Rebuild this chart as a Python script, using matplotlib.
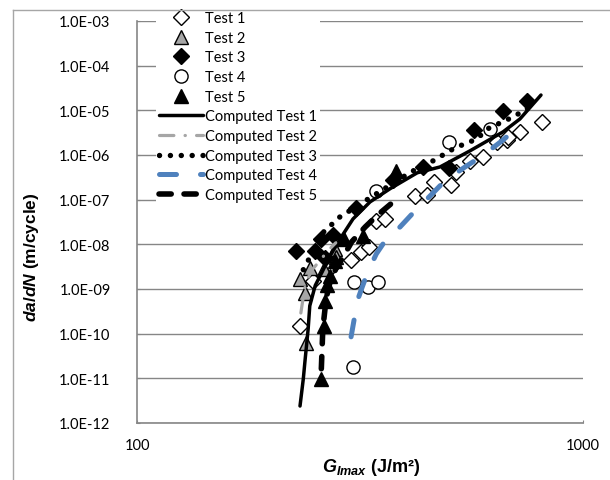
import numpy as np
import matplotlib
matplotlib.use("Agg")
import matplotlib.pyplot as plt
from matplotlib.lines import Line2D

plt.rcParams["font.family"] = ["Lato", "DejaVu Sans"]
plt.rcParams["mathtext.fontset"] = "custom"
plt.rcParams["mathtext.it"] = "Liberation Sans:italic:bold"
plt.rcParams["mathtext.rm"] = "Liberation Sans:bold"
plt.rcParams["mathtext.bf"] = "Liberation Sans:bold"

# measured points (G_Imax in J/m^2, da/dN in m/cycle)
t1_g = [232, 248, 274, 302, 318, 331, 344, 360, 420, 447, 463, 506, 519, 558, 597, 642, 676, 680, 722, 809]
t1_r = [1.5e-10, 1.5e-9, 3.3e-9, 4.5e-9, 6.8e-9, 8.8e-9, 3.4e-8, 3.7e-8, 1.2e-7, 1.3e-7,
        2.5e-7, 2.1e-7, 4.2e-7, 7.4e-7, 9.1e-7, 2.0e-6, 2.2e-6, 2.5e-6, 3.3e-6, 5.5e-6]
t2_g = [232, 238, 239, 244, 263, 278, 279]
t2_r = [1.7e-9, 8.2e-10, 6.3e-11, 3.0e-9, 2.8e-9, 7.9e-9, 5.3e-9]
t3_g = [227, 251, 264, 259, 275, 310, 375, 438, 501, 569, 662, 749]
t3_r = [7.2e-9, 7.2e-9, 5.0e-9, 1.3e-8, 1.6e-8, 6.6e-8, 2.8e-7, 5.4e-7, 5.0e-7, 3.7e-6, 9.7e-6, 1.6e-5]
t4_g = [307, 330, 347, 305, 344, 501, 619]
t4_r = [1.45e-9, 1.1e-9, 1.45e-9, 1.8e-11, 1.6e-7, 2.0e-6, 3.8e-6]
t5_g = [259, 263, 264, 267, 271, 278, 291, 321, 381]
t5_r = [9.8e-12, 1.5e-10, 5.5e-10, 1.2e-9, 2.0e-9, 4.3e-9, 1.3e-8, 1.5e-8, 4.4e-7]

# computed curves
c1_g = [232, 236, 238, 242, 244, 251, 260, 271, 285, 305, 333, 369, 425, 478, 558, 662, 722, 805]
c1_r = [2.4e-12, 9.8e-12, 2.4e-11, 1.3e-10, 4.2e-10, 1.2e-9, 2.4e-9, 5.5e-9, 1.3e-8, 3.7e-8,
        8.9e-8, 1.75e-7, 4.0e-7, 5.4e-7, 1.24e-6, 3.3e-6, 6.4e-6, 2.2e-5]
c2_g = [233, 236, 239, 247, 257, 268, 279]
c2_r = [2.9e-10, 6.7e-10, 1.4e-9, 2.7e-9, 4.3e-9, 7.2e-9, 1.08e-8]
c3_g = [236, 243, 255, 285, 330, 412, 461, 516, 579, 609, 697, 760]
c3_r = [2.7e-9, 4.7e-9, 1.47e-8, 4.1e-8, 1.04e-7, 4.2e-7, 7.4e-7, 1.44e-6, 2.3e-6, 3.8e-6, 7.1e-6, 1.19e-5]
c4_g = [302, 307, 313, 320, 330, 344, 360, 389, 420, 459, 490, 544, 594, 658, 711]
c4_r = [8.5e-11, 2.15e-10, 6.0e-10, 1.12e-9, 2.55e-9, 6.1e-9, 1.2e-8, 2.46e-8, 5.6e-8,
        1.35e-7, 2.64e-7, 5.4e-7, 9.5e-7, 2.07e-6, 4.0e-6]
c5_g = [259, 260, 261, 264, 267, 271, 279, 290, 303, 325, 347, 369, 389]
c5_r = [1.64e-11, 4.6e-11, 1.3e-10, 3.6e-10, 7.8e-10, 1.45e-9, 2.8e-9, 5.3e-9, 1.14e-8,
        2.46e-8, 4.6e-8, 7.7e-8, 1.22e-7]

ytick_vals = [1e-12, 1e-11, 1e-10, 1e-9, 1e-8, 1e-7, 1e-6, 1e-5, 1e-4, 1e-3]
ytick_labels = ["1.0E-12", "1.0E-11", "1.0E-10", "1.0E-09", "1.0E-08",
                "1.0E-07", "1.0E-06", "1.0E-05", "1.0E-04", "1.0E-03"]
xtick_vals = [100, 1000]
xtick_labels = ["100", "1000"]

grid_c = "#868686"

fig = plt.figure(figsize=(6.10, 4.81), dpi=100)
ax = fig.add_axes([137 / 610, 1 - 424 / 481, 446 / 610, 402 / 481])

# chart-area border (only left and top visible in the crop)
fig.add_artist(Line2D([13 / 610, 13 / 610], [0, 1 - 11 / 481], transform=fig.transFigure, color="#a6a6a6", lw=1))
fig.add_artist(Line2D([13 / 610, 1], [1 - 11 / 481, 1 - 11 / 481], transform=fig.transFigure, color="#a6a6a6", lw=1))

ms_kw = dict(linestyle="none", markeredgecolor="black", markeredgewidth=1, zorder=3)
ax.plot(t1_g, t1_r, marker="D", ms=8, markerfacecolor="white", label="Test 1", **ms_kw)
ax.plot(t2_g, t2_r, marker="^", ms=10.5, markerfacecolor="#a6a6a6", label="Test 2", **ms_kw)
ax.plot(t3_g, t3_r, marker="D", ms=8, markerfacecolor="black", label="Test 3", **ms_kw)
ax.plot(t4_g, t4_r, marker="o", ms=9.5, markerfacecolor="white", label="Test 4", **ms_kw)
ax.plot(t5_g, t5_r, marker="^", ms=10.5, markerfacecolor="black", label="Test 5", **ms_kw)

ax.plot(c1_g, c1_r, color="black", lw=2.5, solid_capstyle="round", label="Computed Test 1", zorder=4)
l2, = ax.plot(c2_g, c2_r, color="#a6a6a6", lw=2.3, dash_capstyle="round", label="Computed Test 2", zorder=4)
l2.set_dashes((4.5, 3.5, 0.1, 3.5))
l3, = ax.plot(c3_g, c3_r, color="black", lw=3.9, dash_capstyle="round", label="Computed Test 3", zorder=4)
l3.set_dashes((0.01, 2.0))
l4, = ax.plot(c4_g, c4_r, color="#4f81bd", lw=3.6, dash_capstyle="round", label="Computed Test 4", zorder=4)
l4.set_dashes((3.4, 4.8))
l5, = ax.plot(c5_g, c5_r, color="black", lw=4.0, dash_capstyle="round", label="Computed Test 5", zorder=4)
l5.set_dashes((2.2, 2.3))

ax.set_xscale("log")
ax.set_yscale("log")
ax.set_xlim(100, 1000)
ax.set_ylim(1e-12, 1e-3)
ax.set_yticks(ytick_vals)
ax.set_yticklabels(ytick_labels)
ax.set_xticks(xtick_vals)
ax.set_xticklabels(xtick_labels)
ax.minorticks_off()
ax.tick_params(axis="y", direction="in", length=2.5, color=grid_c, pad=19, labelsize=10.5)
ax.tick_params(axis="x", direction="in", length=2.5, color=grid_c, pad=11, labelsize=10.5)
ax.yaxis.grid(True, color=grid_c, lw=1)
ax.set_axisbelow(True)
for s in ["top", "right"]:
    ax.spines[s].set_visible(False)
for s in ["left", "bottom"]:
    ax.spines[s].set_color(grid_c)
    ax.spines[s].set_linewidth(1.2)

ax.set_ylabel(r"$da/dN$ (m/cycle)", fontsize=12.5, fontweight="bold", family="Liberation Sans")
ax.yaxis.set_label_coords(-0.215, 0.415)
ax.set_xlabel(r"$G_{Imax}$ (J/m²)", fontsize=13, fontweight="bold", family="Liberation Sans")
ax.xaxis.set_label_coords(0.525, -0.083)

leg = ax.legend(loc="upper left", bbox_to_anchor=(156 / 610, 1 - 9 / 481), bbox_transform=fig.transFigure,
                frameon=True, fancybox=False, fontsize=10.5, handlelength=3.0, handletextpad=0.15,
                labelspacing=0.39, borderpad=0.2, borderaxespad=0)
leg.get_frame().set_facecolor("white")
leg.get_frame().set_edgecolor("none")
leg.get_frame().set_alpha(1)
leg.set_zorder(10)

fig.savefig("out.png", dpi=100, facecolor="white")
